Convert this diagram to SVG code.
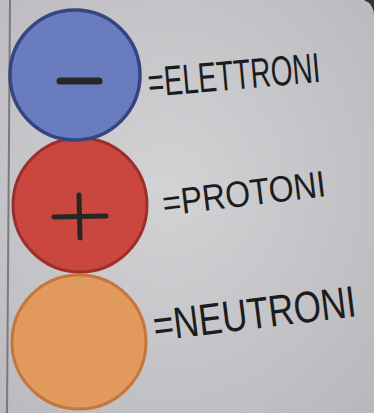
<svg xmlns="http://www.w3.org/2000/svg" width="374" height="413" viewBox="0 0 374 413">
<defs>
<radialGradient id="bg" cx="0.45" cy="0.45" r="0.75">
<stop offset="0" stop-color="#d3d3d6"/>
<stop offset="1" stop-color="#b9b9bd"/>
</radialGradient>
<style>
.lbl{font-family:"Liberation Sans",Arial,sans-serif;fill:#1c1c1e;}
.sign{stroke:#262626;stroke-linecap:round;fill:none;}
</style>
</defs>
<rect width="374" height="413" fill="url(#bg)"/>
<line x1="10" y1="0" x2="7" y2="413" stroke="#7a7a7e" stroke-width="2"/>
<path d="M364 0 Q374 4 374 16 L374 0 Z" fill="#333"/>
<g id="neutroni">
<circle cx="79" cy="342" r="67" fill="#e29a5c" stroke="#c4763c" stroke-width="3"/>
<text class="lbl" font-size="34" transform="translate(155 341) rotate(-7) scale(1 1.3)" textLength="204" lengthAdjust="spacingAndGlyphs">=NEUTRONI</text>
</g>
<g id="protoni">
<circle cx="80" cy="205" r="67" fill="#c9473f" stroke="#9c2f2c" stroke-width="3"/>
<line class="sign" stroke-width="5" x1="54" y1="217" x2="106" y2="216"/>
<line class="sign" stroke-width="5" x1="79" y1="195" x2="80" y2="238"/>
<text class="lbl" font-size="32" transform="translate(164 216) rotate(-7) scale(1 1.15)" textLength="164" lengthAdjust="spacingAndGlyphs">=PROTONI</text>
</g>
<g id="elettroni">
<circle cx="75" cy="75" r="65" fill="#6a7cc0" stroke="#36457f" stroke-width="3.5"/>
<line class="sign" stroke-width="7" x1="60" y1="81" x2="99" y2="81"/>
<text class="lbl" font-size="30" transform="translate(149 97) rotate(-5) scale(1 1.4)" textLength="173" lengthAdjust="spacingAndGlyphs">=ELETTRONI</text>
</g>
</svg>
